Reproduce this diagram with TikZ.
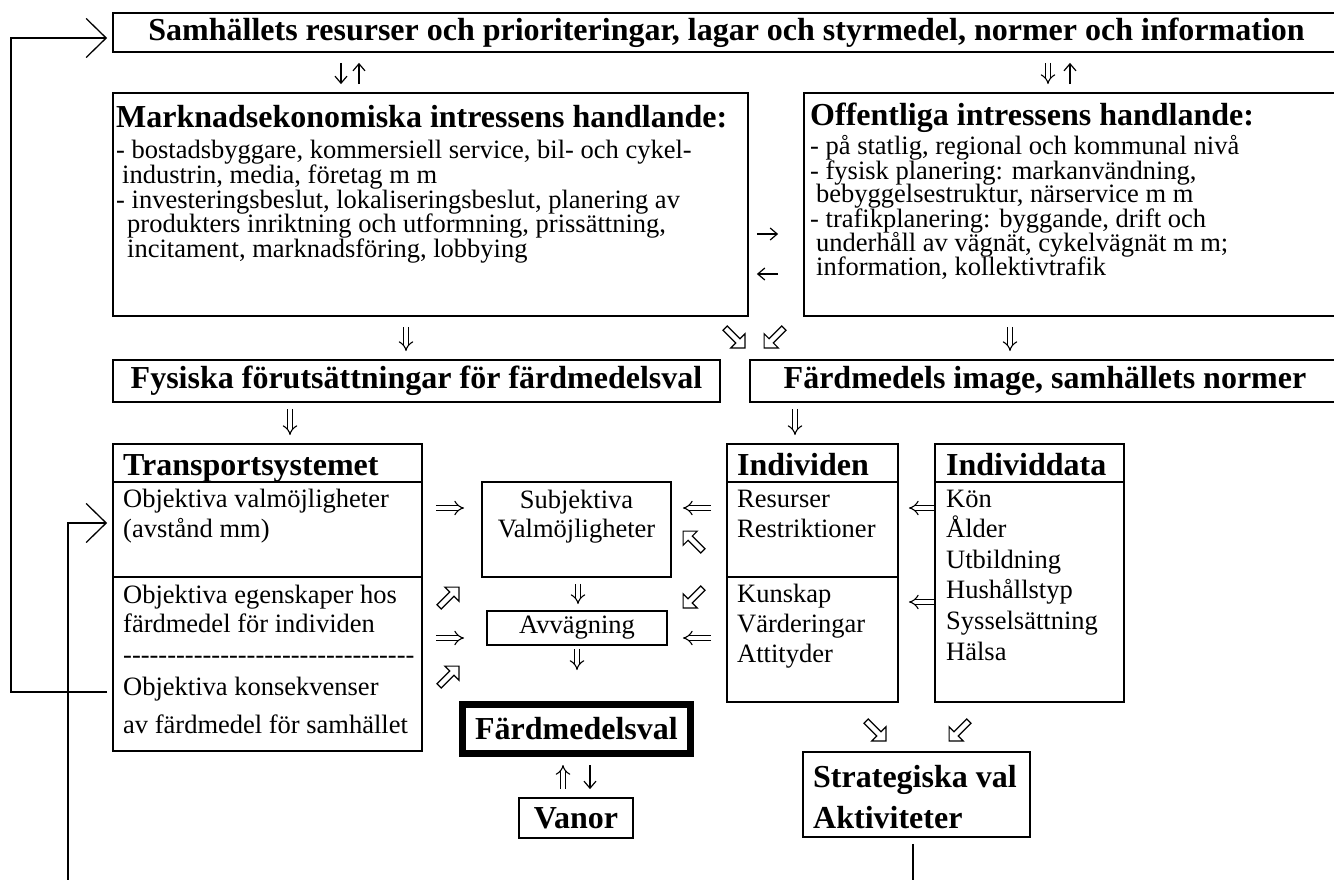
\documentclass[tikz,border=0pt]{standalone}
\usepackage{fontspec}
\setmainfont{Liberation Serif}
\usetikzlibrary{arrows.meta}
\newcommand\hyq{\mbox{-}\mbox{-}\mbox{-}\mbox{-}}
\begin{document}
\begin{tikzpicture}[x=1pt,y=-1pt,
  bx/.style={draw, line width=1.8pt, inner sep=0pt},
  hd/.style={font=\fontsize{32}{36}\selectfont\bfseries},
  tx/.style={font=\fontsize{26.5}{30}\selectfont},
  lt/.style={tx, anchor=base west, inner sep=0pt},
  lh/.style={hd, anchor=base west, inner sep=0pt},
  lc/.style={tx, anchor=base, inner sep=0pt},
  sarr/.style={line width=1.2pt, -{Straight Barb[length=7pt,width=12pt]}},
  darr/.style={double, double distance=4pt, line width=1.1pt, -{Implies}},
  hollow/.pic={\draw[line width=1.2pt, fill=white, line join=miter]
     (-14,-3) -- (4,-3) -- (4,-10) -- (14,0) -- (4,10) -- (4,3) -- (-14,3) -- cycle;},
  fb/.style={line width=1.3pt, -{Straight Barb[length=20pt,width=39pt]}}
]
\useasboundingbox (0,0) rectangle (1334,880);
\clip (0,0) rectangle (1334,880);

% ---------- row 1
\node[bx, hd, minimum width=1227pt, minimum height=39pt] (top) at (726.5,32.5)
  {Samhällets resurser och prioriteringar, lagar och styrmedel, normer och information};
\node[bx, minimum width=635pt, minimum height=223pt] (mark) at (430.5,204.5) {};
\node[bx, minimum width=536pt, minimum height=223pt] (off) at (1072,204.5) {};

\node[lh] (markh) at (116,128) {Marknadsekonomiska intressens handlande:};
\node[lt] (m1) at (116,159) {- bostadsbyggare, kommersiell service, bil- och cykel-};
\node[lt] (m2) at (122,183.5) {industrin, media, företag m m};
\node[lt] (m3) at (116,208) {- investeringsbeslut, lokaliseringsbeslut, planering av};
\node[lt] (m4) at (127,232.5) {produkters inriktning och utformning, prissättning,};
\node[lt] (m5) at (127,257) {incitament, marknadsföring, lobbying};

\node[lh] (offh) at (810,126) {Offentliga intressens handlande:};
\node[lt] (o1) at (810,155) {- på statlig, regional och kommunal nivå};
\node[lt] (o2) at (810,179) {- fysisk planering: markanvändning,};
\node[lt] (o3) at (816,203) {bebyggelsestruktur, närservice m m};
\node[lt] (o4) at (810,227) {- trafikplanering: byggande, drift och};
\node[lt] (o5) at (816,251) {underhåll av vägnät, cykelvägnät m m;};
\node[lt] (o6) at (816,275) {information, kollektivtrafik};

\draw[sarr, shorten <=10pt, shorten >=8pt] (top.south -| 341,0) -- (mark.north -| 341,0);
\draw[sarr, shorten <=8pt, shorten >=10pt] (mark.north -| 359,0) -- (top.south -| 359,0);
\draw[darr, shorten <=10pt, shorten >=8pt] (top.south -| 1048,0) -- (off.north -| 1048,0);
\draw[sarr, shorten <=8pt, shorten >=10pt] (off.north -| 1070,0) -- (top.south -| 1070,0);
\draw[sarr, shorten <=8pt, shorten >=25pt] (mark.east |- 0,234) -- (off.west |- 0,234);
\draw[sarr, shorten <=25pt, shorten >=8pt] (off.west |- 0,274) -- (mark.east |- 0,274);

% ---------- row 2
\node[bx, hd, minimum width=607pt, minimum height=42pt] (fys) at (416.5,381) {Fysiska förutsättningar för färdmedelsval};
\node[bx, hd, minimum width=590pt, minimum height=42pt] (img) at (1045,381) {Färdmedels image, samhällets normer};
\draw[darr, shorten <=10pt, shorten >=8pt] (mark.south -| 406,0) -- (fys.north -| 406,0);
\draw[darr, shorten <=10pt, shorten >=8pt] (off.south -| 1010,0) -- (img.north -| 1010,0);
\pic[rotate=-45] (h1) at (735,338) {hollow};
\pic[rotate=-135] (h2) at (774,338) {hollow};

% ---------- row 3
\node[bx, minimum width=309pt, minimum height=307pt] (tr) at (267.5,597.5) {};
\node[bx, minimum width=171pt, minimum height=258pt] (ind) at (812.5,573) {};
\node[bx, minimum width=189pt, minimum height=258pt] (indd) at (1029.5,573) {};
\node[bx, minimum width=189pt, minimum height=95pt] (subj) at (576.5,529.5) {};
\node[bx, tx, minimum width=180pt, minimum height=34pt] (avv) at (577,628) {Avvägning};
\node[draw, line width=7pt, hd, inner sep=0pt, minimum width=228pt, minimum height=49pt] (fval) at (576.5,729) {Färdmedelsval};
\node[bx, hd, minimum width=114pt, minimum height=40pt] (van) at (576,818) {Vanor};
\node[bx, minimum width=227pt, minimum height=85pt] (strat) at (916.5,794.5) {};

\draw[line width=1.8pt] (tr.west |- 0,482) -- (tr.east |- 0,482);
\draw[line width=1.8pt] (tr.west |- 0,577) -- (tr.east |- 0,577);
\draw[line width=1.8pt] (ind.west |- 0,482) -- (ind.east |- 0,482);
\draw[line width=1.8pt] (ind.west |- 0,577) -- (ind.east |- 0,577);
\draw[line width=1.8pt] (indd.west |- 0,482) -- (indd.east |- 0,482);

\node[lh] (trh) at (123,475) {Transportsystemet};
\node[lt] (t1) at (123,507) {Objektiva valmöjligheter};
\node[lt] (t2) at (123,537) {(avstånd mm)};
\node[lt] (t3) at (123,603) {Objektiva egenskaper hos};
\node[lt] (t4) at (123,632) {färdmedel för individen};
\node[lt] (t5) at (123,663) {\hyq\hyq\hyq\hyq\hyq\hyq\hyq\hyq\mbox{-}};
\node[lt] (t6) at (123,695) {Objektiva konsekvenser};
\node[lt] (t7) at (123,733) {av färdmedel för samhället};

\node[lc] (s1) at (576.5,508) {Subjektiva};
\node[lc] (s2) at (576.5,537) {Valmöjligheter};

\node[lh] (indh) at (737,475) {Individen};
\node[lt] (i1) at (737,507) {Resurser};
\node[lt] (i2) at (737,537) {Restriktioner};
\node[lt] (i3) at (737,602) {Kunskap};
\node[lt] (i4) at (737,632) {Värderingar};
\node[lt] (i5) at (737,662) {Attityder};

\node[lh] (iddh) at (946,475) {Individdata};
\node[lt] (k1) at (946,507) {Kön};
\node[lt] (k2) at (946,537.6) {Ålder};
\node[lt] (k3) at (946,568.2) {Utbildning};
\node[lt] (k4) at (946,598.8) {Hushållstyp};
\node[lt] (k5) at (946,629.4) {Sysselsättning};
\node[lt] (k6) at (946,660) {Hälsa};

\node[lh] (st1) at (813,787) {Strategiska val};
\node[lh] (st2) at (813,828) {Aktiviteter};

\draw[darr, shorten <=6pt, shorten >=8pt] (fys.south -| 290,0) -- (tr.north -| 290,0);
\draw[darr, shorten <=6pt, shorten >=8pt] (img.south -| 795,0) -- (ind.north -| 795,0);
\draw[darr, shorten <=13pt, shorten >=17pt] (tr.east |- 0,508) -- (subj.west |- 0,508);
\draw[darr, shorten <=15pt, shorten >=11pt] (ind.west |- 0,508) -- (subj.east |- 0,508);
\draw[darr, shorten <=6pt, shorten >=6pt] (subj.south -| 578,0) -- (avv.north -| 578,0);
\draw[darr, shorten <=13pt, shorten >=22pt] (tr.east |- 0,638) -- (avv.west |- 0,638);
\draw[darr, shorten <=15pt, shorten >=15pt] (ind.west |- 0,638) -- (avv.east |- 0,638);
\draw[darr, shorten <=3pt, shorten >=31pt] (avv.south -| 577,0) -- (fval.north -| 577,0);
\draw[darr, shorten <=8pt, shorten >=8pt] (van.north -| 563,0) -- (fval.south -| 563,0);
\draw[sarr, shorten <=8pt, shorten >=8pt] (fval.south -| 590,0) -- (van.north -| 590,0);
\draw[darr, shorten >=10pt] (indd.west |- 0,508) -- (ind.east |- 0,508);
\draw[darr, shorten >=10pt] (indd.west |- 0,602) -- (ind.east |- 0,602);

\pic[rotate=135] (h3) at (693,541) {hollow};
\pic[rotate=45] (h4) at (449,597) {hollow};
\pic[rotate=-135] (h5) at (693,598) {hollow};
\pic[rotate=45] (h6) at (449,676) {hollow};
\pic[rotate=-45] (h7) at (876,731) {hollow};
\pic[rotate=-135] (h8) at (959,731) {hollow};

% ---------- feedback loops
\draw[fb, shorten <=5pt, shorten >=5pt] (tr.west |- 0,692) -- (11,692) -- (11,38) -- (top.west |- 0,38);
\draw[fb, shorten <=6pt, shorten >=5pt] (strat.south -| 913,0) -- ++(0,60) -| (68,523) -- (tr.west |- 0,523);
\end{tikzpicture}
\end{document}
